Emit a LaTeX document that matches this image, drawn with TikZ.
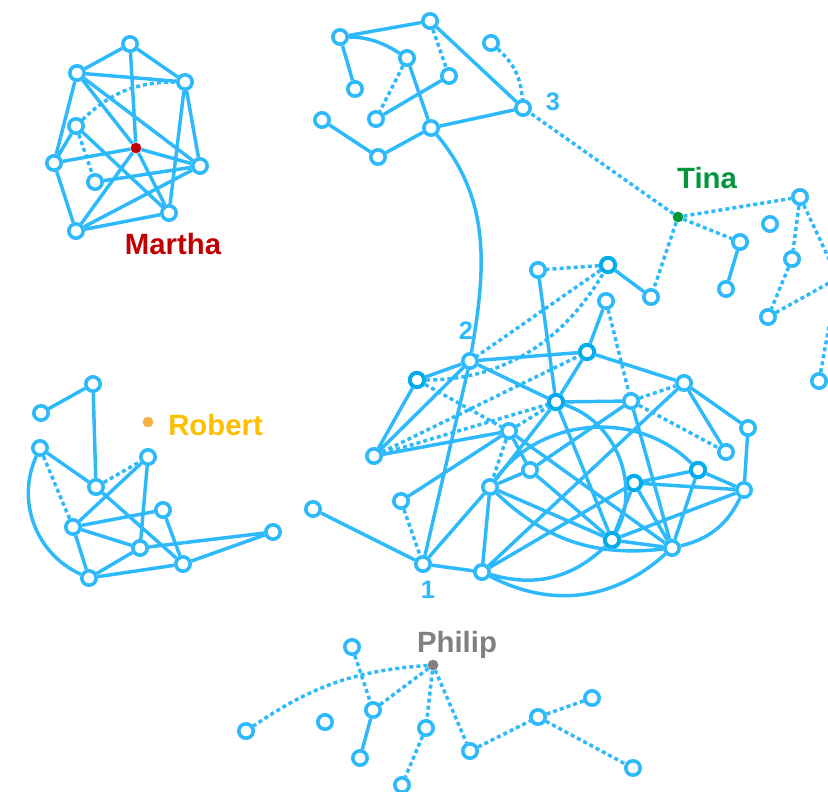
\documentclass[tikz,border=0pt]{standalone}
\usepackage{fontspec}
\setmainfont{Liberation Sans}

\definecolor{netblue}{RGB}{45,185,250}
\definecolor{deepblue}{RGB}{0,172,235}
\definecolor{marthared}{RGB}{192,0,0}
\definecolor{tinagreen}{RGB}{0,150,57}
\definecolor{robertgold}{RGB}{255,190,0}
\definecolor{robertdot}{RGB}{247,178,66}
\definecolor{philipgrey}{RGB}{128,128,128}

\tikzset{
  vtx/.style={circle, draw=netblue, fill=white, line width=2.7pt, minimum size=10.8pt, inner sep=0pt},
  core/.style={vtx, draw=deepblue, line width=3pt},
  link/.style={draw=netblue, line width=2.6pt},
  weak/.style={draw=netblue, line width=2.6pt, dash pattern=on 3pt off 2.3pt},
  hub/.style={circle, fill=#1, minimum size=8pt, inner sep=0pt},
  who/.style={font=\fontsize{22}{26}\selectfont\bfseries, text=#1, inner sep=0pt},
  num/.style={font=\fontsize{19}{23}\selectfont\bfseries, text=netblue, inner sep=0pt}
}

\begin{document}
\begin{tikzpicture}[x=0.75pt,y=0.75pt,yscale=-1,xscale=1]
\clip (0,0) rectangle (828,792);

%Martha group
\node[hub=marthared] (martha) at (136,148) {};
\node[vtx] (m1) at (130,44) {};
\node[vtx] (m2) at (77,73) {};
\node[vtx] (m3) at (185,82) {};
\node[vtx] (m4) at (76,126) {};
\node[vtx] (m5) at (54,163) {};
\node[vtx] (m6) at (95,182) {};
\node[vtx] (m7) at (200,166) {};
\node[vtx] (m8) at (169,213) {};
\node[vtx] (m9) at (76,231) {};
\draw[link] (m1) -- (m2) (m1) -- (m3) (m1) -- (martha) (m2) -- (m3) (m2) -- (m5)
  (m2) -- (martha) (m2) -- (m7) (m4) -- (m5) (m4) -- (m8) (m3) -- (m8) (m3) -- (m7)
  (m5) -- (martha) (martha) -- (m7) (martha) -- (m9) (martha) -- (m8) (m5) -- (m9)
  (m9) -- (m8) (m9) -- (m7) (m6) -- (m7);
\draw[weak] (m4) -- (m6) (m4) to[bend right=22] (m3);
% Text Node
\node[who=marthared] (marthalbl) at (173,244) {Martha};

%Group 3
\node[vtx] (a1) at (340,37) {};
\node[vtx] (a2) at (430,21) {};
\node[vtx] (a3) at (407,58) {};
\node[vtx] (a4) at (355,89) {};
\node[vtx] (a5) at (449,76) {};
\node[vtx] (a6) at (491,43) {};
\node[vtx] (a7) at (523,108) {};
\node[vtx] (a8) at (322,120) {};
\node[vtx] (a9) at (376,119) {};
\node[vtx] (a10) at (431,128) {};
\node[vtx] (a11) at (378,157) {};
\draw[link] (a1) -- (a2) (a1) -- (a4) (a1) to[out=0,in=-125] (a3) (a2) -- (a7)
  (a3) -- (a10) (a5) -- (a9) (a7) -- (a10) (a8) -- (a11) (a11) -- (a10);
\draw[weak] (a2) -- (a5) (a3) -- (a9) (a6) to[bend right=22] (a7);
% Text Node
\node[num] (lbl3) at (553,102) {3};

%Tina group
\node[hub=tinagreen] (tina) at (678,217) {};
\node[vtx] (t1) at (800,197) {};
\node[vtx] (t2) at (770,224) {};
\node[vtx] (t3) at (740,242) {};
\node[vtx] (t4) at (726,289) {};
\node[vtx] (t5) at (792,259) {};
\node[vtx] (t6) at (768,317) {};
\node[vtx] (t7) at (651,297) {};
\node[vtx] (t8) at (819,381) {};
\coordinate (tx) at (838,278);
\draw[weak] (tina) -- (a7) (tina) -- (t1) (tina) -- (t3) (tina) -- (t7)
  (t1) -- (t5) (t5) -- (t6) (t1) -- (tx) (t6) -- (tx) (t8) -- (tx);
\draw[link] (t3) -- (t4);
% Text Node
\node[who=tinagreen] (tinalbl) at (707,178) {Tina};

%Main group
\node[vtx] (nb) at (538,270) {};
\node[core] (na) at (608,265) {};
\node[vtx] (nc) at (606,301) {};
\node[vtx] (c2) at (470,361) {};
\node[core] (cd) at (417,380) {};
\node[core] (ce) at (587,352) {};
\node[core] (cf) at (556,402) {};
\node[vtx] (cg) at (509,431) {};
\node[vtx] (ch) at (631,401) {};
\node[vtx] (ci) at (374,456) {};
\node[vtx] (ck) at (684,383) {};
\node[vtx] (cl) at (748,428) {};
\node[vtx] (cm) at (726,452) {};
\node[vtx] (cj) at (530,470) {};
\node[core] (cn) at (698,470) {};
\node[core] (co) at (634,483) {};
\node[vtx] (cp) at (744,490) {};
\node[vtx] (cq) at (490,487) {};
\node[vtx] (cr) at (401,501) {};
\node[core] (cs) at (612,540) {};
\node[vtx] (ct) at (672,548) {};
\node[vtx] (c1) at (423,564) {};
\node[vtx] (cu) at (482,572) {};
\node[vtx] (cz) at (313,509) {};
\draw[link] (a10) to[out=55,in=-82] (c2);
\draw[link] (nb) -- (cf) (na) -- (t7) (nc) -- (ce) (c2) -- (ce) (c2) -- (cf) (c2) -- (cd)
  (c2) -- (ci) (c2) -- (c1) (cd) -- (ci) (ci) -- (cg) (ce) -- (cf) (ce) -- (ck)
  (cf) -- (ch) (cf) -- (cq) (cf) -- (cs) (ch) -- (ct) (ch) -- (cj) (ck) -- (cl)
  (ck) -- (cm) (ck) -- (cu) (cl) -- (cp) (cg) -- (cj) (cg) -- (cr) (cg) -- (ct)
  (cj) -- (cq) (cj) -- (cs) (cq) -- (cu) (cq) -- (c1) (cq) -- (cs) (c1) -- (cu)
  (c1) -- (cz) (cu) -- (co) (cn) -- (co) (cn) -- (cp) (cn) -- (ct) (co) -- (cp)
  (co) -- (cs) (co) -- (ct) (cs) -- (cp) (cs) -- (ct);
\draw[link] (cu) to[bend left=30] (cs) (cu) to[bend left=35] (ct) (ct) to[bend left=25] (cp)
  (cq) to[bend right=50] (cn) (cf) to[bend right=50] (cs) (cq) to[bend left=25] (ct);
\draw[weak] (na) -- (nb) (na) -- (c2) (cd) to[out=0,in=115] (na) (nc) -- (ch)
  (cd) -- (cg) (ci) -- (ce) (ci) -- (cf) (cg) -- (cf) (cg) -- (cq) (ch) -- (ck)
  (ch) -- (cm) (cr) -- (c1);
% Text Node
\node[num] (lbl2) at (466,331) {2};
\node[num] (lbl1) at (428,590) {1};

%Robert group
\node[hub=robertdot] (robert) at (148,422) {};
\node[vtx] (r1) at (93,384) {};
\node[vtx] (r2) at (41,413) {};
\node[vtx] (r3) at (40,448) {};
\node[vtx] (r4) at (148,457) {};
\node[vtx] (r5) at (96,487) {};
\node[vtx] (r6) at (163,510) {};
\node[vtx] (r7) at (73,527) {};
\node[vtx] (r8) at (273,532) {};
\node[vtx] (r9) at (140,548) {};
\node[vtx] (r10) at (183,564) {};
\node[vtx] (r11) at (89,578) {};
\draw[link] (r1) -- (r2) (r1) -- (r5) (r3) -- (r5) (r5) -- (r10) (r4) -- (r7) (r4) -- (r9)
  (r7) -- (r6) (r7) -- (r9) (r7) -- (r11) (r6) -- (r10) (r9) -- (r8) (r9) -- (r11)
  (r11) -- (r10) (r10) -- (r8) (r3) to[bend left=45] (r11);
\draw[weak] (r3) -- (r7) (r5) -- (r4);
% Text Node
\node[who=robertgold, anchor=west] (robertlbl) at (168,425) {Robert};

%Philip group
\node[hub=philipgrey] (philip) at (433,665) {};
\node[vtx] (p1) at (352,647) {};
\node[vtx] (p2) at (246,731) {};
\node[vtx] (p3) at (325,722) {};
\node[vtx] (p4) at (373,710) {};
\node[vtx] (p5) at (360,758) {};
\node[vtx] (p6) at (426,728) {};
\node[vtx] (p7) at (402,785) {};
\node[vtx] (p8) at (470,751) {};
\node[vtx] (p9) at (538,717) {};
\node[vtx] (p10) at (592,698) {};
\node[vtx] (p11) at (633,768) {};
\draw[weak] (philip) to[bend left=15] (p2) (philip) -- (p4) (philip) -- (p6) (philip) -- (p8)
  (p1) -- (p4) (p6) -- (p7) (p8) -- (p9) (p9) -- (p10) (p9) -- (p11);
\draw[link] (p4) -- (p5);
% Text Node
\node[who=philipgrey] (philiplbl) at (457,645) {Philip};

\end{tikzpicture}
\end{document}
